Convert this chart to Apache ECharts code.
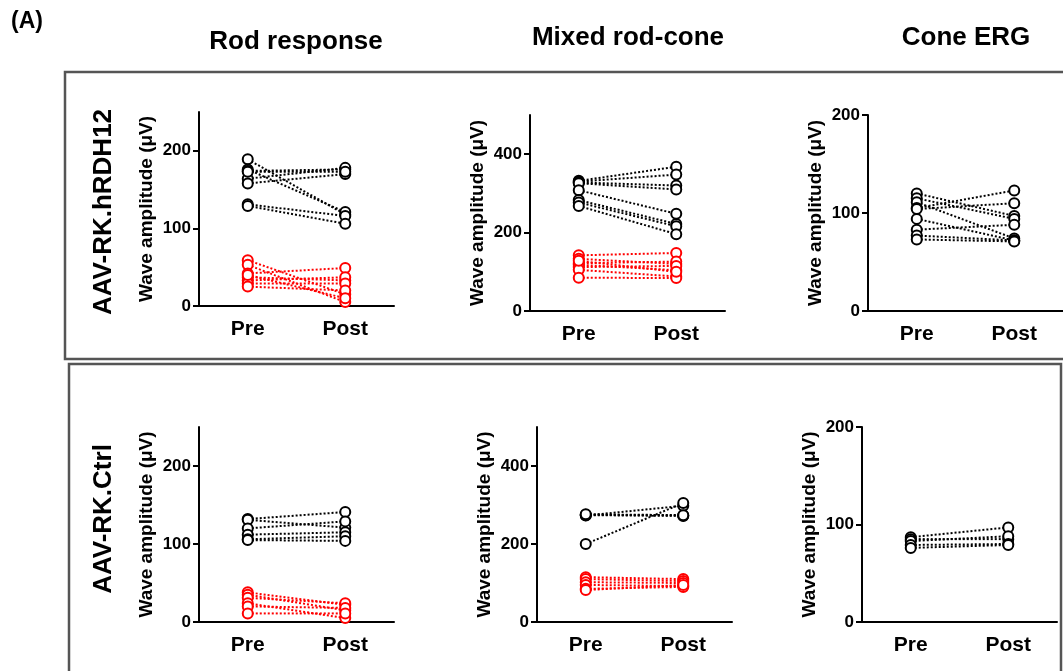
<!DOCTYPE html>
<html><head><meta charset="utf-8">
<script src="https://cdn.jsdelivr.net/npm/echarts@6/dist/echarts.min.js"></script>
<style>html,body{margin:0;padding:0;background:#fff}#c{width:1063px;height:671px}</style>
</head><body><div id="c"></div>
<script>
// ---- data ----
const categories = ['Pre', 'Post'];
const columnTitles = ['Rod response', 'Mixed rod-cone', 'Cone ERG'];
const rowTitles = ['AAV-RK.hRDH12', 'AAV-RK.Ctrl'];
const panelLabel = '(A)';
const yAxisName = 'Wave amplitude (\u03BCV)';

const rodTicks = [0, 100, 200];
const mixedTicks = [0, 200, 400];
const coneTicks = [0, 100, 200];
const axisMax = [250, 500, 200];

// AAV-RK.hRDH12 – rod response
const rodTreatBlackPre  = [189, 176, 174, 164, 158, 173, 131, 129];
const rodTreatBlackPost = [118, 121, 176, 178, 170, 173, 116, 106];
const rodTreatRedPre    = [59, 53, 42, 37, 33, 29, 25, 40];
const rodTreatRedPost   = [15, 5, 49, 33, 37, 29, 20, 10];
// AAV-RK.hRDH12 – mixed rod-cone
const mixedTreatBlackPre  = [332, 330, 328, 326, 308, 283, 277, 268];
const mixedTreatBlackPost = [368, 348, 320, 310, 248, 222, 216, 196];
const mixedTreatRedPre    = [142, 133, 122, 118, 112, 105, 85, 128];
const mixedTreatRedPost   = [148, 120, 126, 104, 115, 88, 84, 100];
// AAV-RK.hRDH12 – cone ERG
const coneTreatBlackPre  = [120, 115, 111, 105, 104, 94, 83, 77, 73];
const coneTreatBlackPost = [97, 94, 74, 123, 110, 72, 88, 72, 71];
// AAV-RK.Ctrl – rod response
const rodCtrlBlackPre  = [132, 131, 120, 112, 106, 105];
const rodCtrlBlackPost = [141, 121, 129, 115, 110, 104];
const rodCtrlRedPre    = [38, 35, 31, 24, 20, 11];
const rodCtrlRedPost   = [22, 15, 24, 5, 18, 11];
// AAV-RK.Ctrl – mixed rod-cone
const mixedCtrlBlackPre  = [275, 274, 273, 276, 200];
const mixedCtrlBlackPost = [273, 272, 298, 274, 305];
const mixedCtrlRedPre    = [115, 110, 102, 95, 85, 82];
const mixedCtrlRedPost   = [110, 105, 100, 92, 90, 95];
// AAV-RK.Ctrl – cone ERG
const coneCtrlBlackPre  = [87, 85, 83, 79, 76];
const coneCtrlBlackPost = [97, 85, 88, 80, 79];

// ---- build ----
const FONT = '"Liberation Sans", Arial, sans-serif';
const BLACK = '#000';
const RED = '#ff0000';

const panels = [
  {grid: {left: 199, top: 112, width: 195, height: 194}, max: axisMax[0], ticks: rodTicks,
   groups: [[rodTreatRedPre, rodTreatRedPost, RED], [rodTreatBlackPre, rodTreatBlackPost, BLACK]]},
  {grid: {left: 530, top: 115, width: 195, height: 196}, max: axisMax[1], ticks: mixedTicks,
   groups: [[mixedTreatRedPre, mixedTreatRedPost, RED], [mixedTreatBlackPre, mixedTreatBlackPost, BLACK]]},
  {grid: {left: 868, top: 115, width: 195, height: 196}, max: axisMax[2], ticks: coneTicks,
   groups: [[coneTreatBlackPre, coneTreatBlackPost, BLACK]]},
  {grid: {left: 199, top: 427, width: 195, height: 195}, max: axisMax[0], ticks: rodTicks,
   groups: [[rodCtrlRedPre, rodCtrlRedPost, RED], [rodCtrlBlackPre, rodCtrlBlackPost, BLACK]]},
  {grid: {left: 537, top: 427, width: 195, height: 195}, max: axisMax[1], ticks: mixedTicks,
   groups: [[mixedCtrlRedPre, mixedCtrlRedPost, RED], [mixedCtrlBlackPre, mixedCtrlBlackPost, BLACK]]},
  {grid: {left: 862, top: 427, width: 195, height: 195}, max: axisMax[2], ticks: coneTicks,
   groups: [[coneCtrlBlackPre, coneCtrlBlackPost, BLACK]]}
];

const grid = [], xAxis = [], yAxis = [], series = [];
panels.forEach((p, i) => {
  grid.push(Object.assign({containLabel: false}, p.grid));
  xAxis.push({
    type: 'category', gridIndex: i, data: categories, boundaryGap: true,
    axisLine: {lineStyle: {color: BLACK, width: 2}},
    axisTick: {alignWithLabel: true, length: 6, lineStyle: {color: BLACK, width: 2}},
    axisLabel: {color: BLACK, fontSize: 21, fontWeight: 'bold', fontFamily: FONT, margin: 13},
    splitLine: {show: false}
  });
  yAxis.push({
    type: 'value', gridIndex: i, min: 0, max: p.max,
    name: yAxisName, nameLocation: 'middle', nameGap: 43,
    nameTextStyle: {color: BLACK, fontSize: 19, fontWeight: 'bold', fontFamily: FONT},
    axisLine: {show: true, lineStyle: {color: BLACK, width: 2}},
    axisTick: {show: true, length: 6, lineStyle: {color: BLACK, width: 2}, customValues: p.ticks},
    axisLabel: {color: BLACK, fontSize: 17, fontWeight: 'bold', fontFamily: FONT, margin: 8, customValues: p.ticks},
    splitLine: {show: false}
  });
  p.groups.forEach(([pre, post, color]) => {
    pre.forEach((v, k) => {
      series.push({
        type: 'line', xAxisIndex: i, yAxisIndex: i,
        data: [v, post[k]],
        symbol: 'circle', symbolSize: 10, showSymbol: true,
        itemStyle: {color: '#fff', borderColor: color, borderWidth: 2},
        lineStyle: {color: color, width: 2, type: 'dotted'},
        emphasis: {disabled: true}, silent: true, animation: false
      });
    });
  });
});

const textStyle = (size) => ({fill: BLACK, font: `bold ${size}px ${FONT}`, textAlign: 'center', textVerticalAlign: 'middle'});
const graphic = [
  {type: 'rect', shape: {x: 65, y: 72, width: 1010, height: 287}, style: {fill: 'none', stroke: '#555', lineWidth: 2.5}, z: -1},
  {type: 'rect', shape: {x: 69, y: 364, width: 992, height: 330}, style: {fill: 'none', stroke: '#555', lineWidth: 2.5}, z: -1},
  {type: 'text', x: 27, y: 22, style: Object.assign(textStyle(23), {text: panelLabel})},
  {type: 'text', x: 296, y: 42, style: Object.assign(textStyle(26), {text: columnTitles[0]})},
  {type: 'text', x: 628, y: 38, style: Object.assign(textStyle(26), {text: columnTitles[1]})},
  {type: 'text', x: 966, y: 38, style: Object.assign(textStyle(26), {text: columnTitles[2]})},
  {type: 'text', x: 104, y: 212, rotation: Math.PI / 2, style: Object.assign(textStyle(26), {text: rowTitles[0]})},
  {type: 'text', x: 104, y: 519, rotation: Math.PI / 2, style: Object.assign(textStyle(26), {text: rowTitles[1]})}
];

const chart = echarts.init(document.getElementById('c'), null, {renderer: 'canvas'});
chart.setOption({animation: false, backgroundColor: '#fff', grid, xAxis, yAxis, series, graphic});
</script>
</body></html>
